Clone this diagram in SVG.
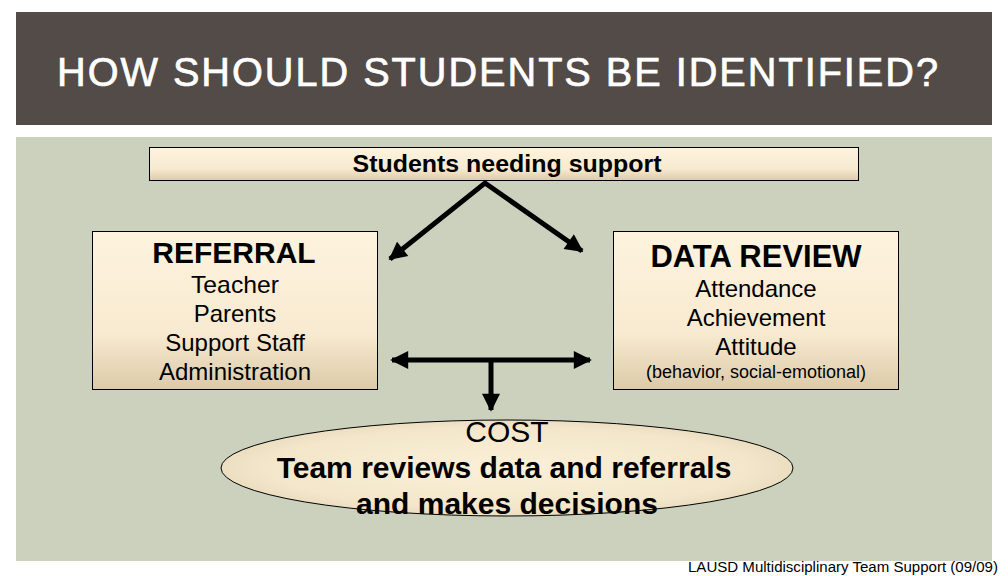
<svg xmlns="http://www.w3.org/2000/svg" width="1008" height="576" viewBox="0 0 1008 576">
<defs>
<linearGradient id="boxg" x1="0" y1="0" x2="0" y2="1">
<stop offset="0" stop-color="#FDF3DE"/>
<stop offset="0.65" stop-color="#F8EAD0"/>
<stop offset="1" stop-color="#DCCAA8"/>
</linearGradient>
<radialGradient id="ellg" cx="0.5" cy="0.5" r="0.6">
<stop offset="0" stop-color="#FBF0D8"/>
<stop offset="0.7" stop-color="#F3E6CA"/>
<stop offset="1" stop-color="#E2D3B4"/>
</radialGradient>
<marker id="ah" viewBox="0 0 10 10" refX="9" refY="5" markerWidth="4" markerHeight="3.6" orient="auto-start-reverse" markerUnits="strokeWidth">
<path d="M0,0 L10,5 L0,10 z" fill="#000"/>
</marker>
<style>
.bx{fill:url(#boxg);stroke:#000;stroke-width:1}
.t{font-family:"Liberation Sans",Arial,sans-serif;fill:#000;text-anchor:middle}
.b{font-weight:bold}
.ln{stroke:#000;stroke-width:5;fill:none}
</style>
</defs>
<rect x="0" y="0" width="1008" height="576" fill="#fff"/>
<rect x="16" y="12" width="976" height="113" fill="#534B48"/>
<text x="57" y="86" font-family="'Liberation Sans',Arial,sans-serif" font-size="40" fill="#fff" stroke="#fff" stroke-width="0.7" letter-spacing="2" textLength="883" lengthAdjust="spacingAndGlyphs">HOW SHOULD STUDENTS BE IDENTIFIED?</text>
<rect x="16" y="137" width="976" height="424" fill="#CBD1BC"/>

<g id="top">
<rect class="bx" x="149.5" y="147.5" width="709" height="33"/>
<text class="t b" x="507" y="172" font-size="23" textLength="309" lengthAdjust="spacingAndGlyphs">Students needing support</text>
</g>
<g id="referral">
<rect class="bx" x="92.5" y="231.5" width="285" height="158"/>
<text class="t b" x="234" y="263" font-size="30">REFERRAL</text>
<text class="t" x="235" y="293" font-size="24" textLength="88" lengthAdjust="spacingAndGlyphs">Teacher</text>
<text class="t" x="235" y="322" font-size="24">Parents</text>
<text class="t" x="235" y="351" font-size="24">Support Staff</text>
<text class="t" x="235" y="380" font-size="24">Administration</text>
</g>
<g id="datareview">
<rect class="bx" x="613.5" y="231.5" width="285" height="158"/>
<text class="t b" x="756" y="267" font-size="31">DATA REVIEW</text>
<text class="t" x="756" y="297" font-size="24">Attendance</text>
<text class="t" x="756" y="326" font-size="24">Achievement</text>
<text class="t" x="756" y="355" font-size="24">Attitude</text>
<text class="t" x="756" y="378" font-size="18">(behavior, social-emotional)</text>
</g>
<g id="connectors">
<polyline class="ln" points="390,259 485,183 582,251" marker-start="url(#ah)" marker-end="url(#ah)"/>
<line class="ln" x1="392" y1="360" x2="590" y2="360" marker-start="url(#ah)" marker-end="url(#ah)"/>
<line class="ln" x1="491" y1="360" x2="491" y2="410" marker-end="url(#ah)"/>
</g>
<g id="cost">
<ellipse cx="507" cy="468" rx="286" ry="48" fill="url(#ellg)" stroke="#000" stroke-width="1"/>
<text class="t" x="507" y="442" font-size="30">COST</text>
<text class="t b" x="504" y="478" font-size="30">Team reviews data and referrals</text>
<text class="t b" x="507" y="514" font-size="30">and makes decisions</text>
</g>
<text x="688" y="572" font-family="'Liberation Sans',Arial,sans-serif" font-size="14" fill="#000" textLength="310" lengthAdjust="spacingAndGlyphs">LAUSD Multidisciplinary Team Support (09/09)</text>
</svg>
